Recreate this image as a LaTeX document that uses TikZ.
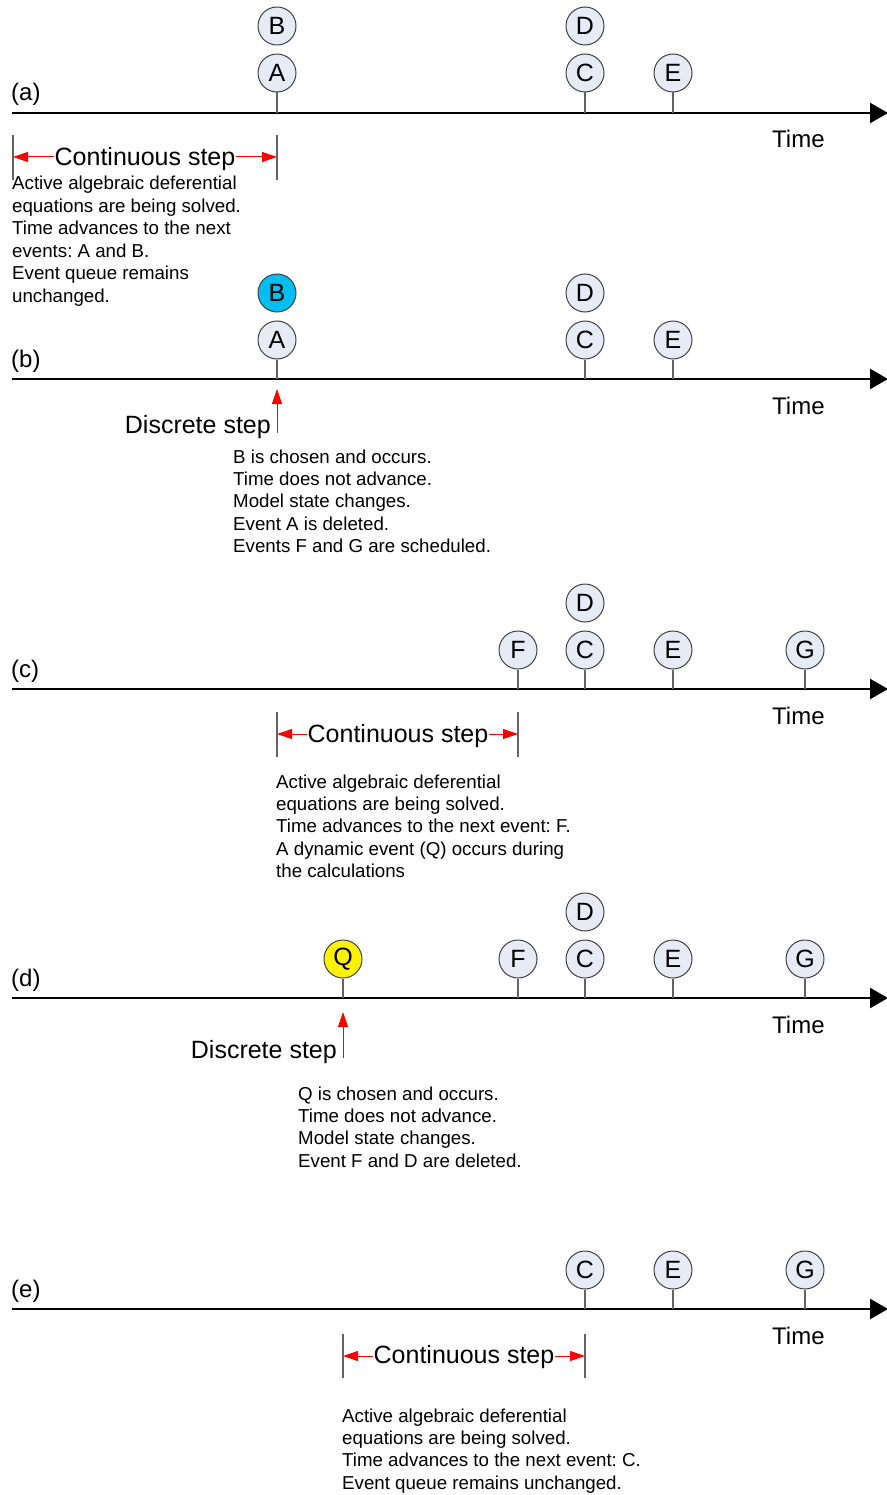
\documentclass[tikz,border=0pt]{standalone}
\usepackage{fontspec}
\setmainfont{Liberation Sans}
\frenchspacing
\usetikzlibrary{arrows.meta}
\definecolor{evfill}{RGB}{230,235,245}
\definecolor{evline}{RGB}{64,64,64}
\definecolor{stemgray}{RGB}{100,100,100}
\definecolor{firecyan}{RGB}{0,190,240}
\tikzset{
  event/.style={circle, draw=evline, line width=1pt, fill=evfill, minimum size=38pt,
    inner sep=0pt, font=\fontsize{25}{25}\selectfont},
  stem/.style={draw=stemgray, line width=1.5pt},
  timeaxis/.style={draw=black, line width=2.5pt, -{Triangle[length=18pt,width=20pt]}},
  bound/.style={draw=stemgray, line width=1.5pt},
  redarrow/.style={draw=red, line width=1pt, -{Triangle[length=15pt,width=10pt]}},
  steplabel/.style={font=\fontsize{25}{25}\selectfont, inner sep=0pt},
  % multi-line notes: the base anchor sits on the last line's baseline
  body/.style={font=\fontsize{18.7}{22.4}\selectfont, align=left, inner sep=0pt, anchor=base west},
  panel/.style={font=\fontsize{24}{24}\selectfont, inner sep=0pt, anchor=base west}
}
\begin{document}
\begin{tikzpicture}[x=1pt,y=-1pt]
\useasboundingbox (0,0) rectangle (886,1495);

% ---------------- (a) ----------------
\coordinate (axA0) at (12,113);
\coordinate (axA1) at (888,113);
\draw[timeaxis] (axA0) -- (axA1);
\node[panel] (labA) at (11,101) {(a)};
\node[panel] (timeA) at (772,148) {Time};
\node[event] (Aa) at (277,73) {A};
\node[event] (Ba) at (277,26) {B};
\node[event] (Ca) at (585,73) {C};
\node[event] (Da) at (585,26) {D};
\node[event] (Ea) at (673,73) {E};
\foreach \n in {Aa,Ca,Ea} \draw[stem] (\n.south) -- (\n.south |- axA0);
\coordinate (bA0t) at (13,135);  \coordinate (bA0b) at (13,180);
\coordinate (bA1t) at (277,135); \coordinate (bA1b) at (277,180);
\draw[bound] (bA0t) -- (bA0b);
\draw[bound] (bA1t) -- (bA1b);
\node[steplabel, anchor=base] (csA) at (145,166) {Continuous step};
\coordinate (csAy) at (0,157);
\draw[redarrow] (csA.west |- csAy) -- (bA0t |- csAy);
\draw[redarrow] (csA.east |- csAy) -- (bA1t |- csAy);
\node[body] (txtA) at (12,302) {Active algebraic deferential\\equations are being solved.\\Time advances to the next\\events: A and B.\\Event queue remains\\unchanged.};

% ---------------- (b) ----------------
\coordinate (axB0) at (12,379);
\coordinate (axB1) at (888,379);
\draw[timeaxis] (axB0) -- (axB1);
\node[panel] (labB) at (11,367) {(b)};
\node[panel] (timeB) at (772,414) {Time};
\node[event] (Ab) at (277,340) {A};
\node[event, fill=firecyan] (Bb) at (277,293) {B};
\node[event] (Cb) at (585,340) {C};
\node[event] (Db) at (585,293) {D};
\node[event] (Eb) at (673,340) {E};
\foreach \n in {Ab,Cb,Eb} \draw[stem] (\n.south) -- (\n.south |- axB0);
\coordinate (dsB0) at (277,433);
\coordinate (dsB1) at (277,389);
\draw[redarrow] (dsB0) -- (dsB1);
\node[steplabel, anchor=base east] (dsB) at (271,433) {Discrete step};
\node[body] (txtB) at (233,552.6) {B is chosen and occurs.\\Time does not advance.\\Model state changes.\\Event A is deleted.\\Events F and G are scheduled.};

% ---------------- (c) ----------------
\coordinate (axC0) at (12,689);
\coordinate (axC1) at (888,689);
\draw[timeaxis] (axC0) -- (axC1);
\node[panel] (labC) at (11,677) {(c)};
\node[panel] (timeC) at (772,724) {Time};
\node[event] (Fc) at (518,650) {F};
\node[event] (Cc) at (585,650) {C};
\node[event] (Dc) at (585,603) {D};
\node[event] (Ec) at (673,650) {E};
\node[event] (Gc) at (805,650) {G};
\foreach \n in {Fc,Cc,Ec,Gc} \draw[stem] (\n.south) -- (\n.south |- axC0);
\coordinate (bC0t) at (277,712); \coordinate (bC0b) at (277,757);
\coordinate (bC1t) at (518,712); \coordinate (bC1b) at (518,757);
\draw[bound] (bC0t) -- (bC0b);
\draw[bound] (bC1t) -- (bC1b);
\node[steplabel, anchor=base] (csC) at (398,742) {Continuous step};
\coordinate (csCy) at (0,734);
\draw[redarrow] (csC.west |- csCy) -- (bC0t |- csCy);
\draw[redarrow] (csC.east |- csCy) -- (bC1t |- csCy);
\node[body] (txtC) at (276,877.6) {Active algebraic deferential\\equations are being solved.\\Time advances to the next event: F.\\A dynamic event (Q) occurs during\\the calculations};

% ---------------- (d) ----------------
\coordinate (axD0) at (12,998);
\coordinate (axD1) at (888,998);
\draw[timeaxis] (axD0) -- (axD1);
\node[panel] (labD) at (11,986) {(d)};
\node[panel] (timeD) at (772,1033) {Time};
\node[event, fill=yellow] (Qd) at (343,959) {Q};
\node[event] (Fd) at (518,959) {F};
\node[event] (Cd) at (585,959) {C};
\node[event] (Dd) at (585,912) {D};
\node[event] (Ed) at (673,959) {E};
\node[event] (Gd) at (805,959) {G};
\foreach \n in {Qd,Fd,Cd,Ed,Gd} \draw[stem] (\n.south) -- (\n.south |- axD0);
\coordinate (dsD0) at (343,1058);
\coordinate (dsD1) at (343,1012);
\draw[redarrow] (dsD0) -- (dsD1);
\node[steplabel, anchor=base east] (dsD) at (337,1058) {Discrete step};
\node[body] (txtD) at (298,1167.2) {Q is chosen and occurs.\\Time does not advance.\\Model state changes.\\Event F and D are deleted.};

% ---------------- (e) ----------------
\coordinate (axE0) at (12,1309);
\coordinate (axE1) at (888,1309);
\draw[timeaxis] (axE0) -- (axE1);
\node[panel] (labE) at (11,1297) {(e)};
\node[panel] (timeE) at (772,1344) {Time};
\node[event] (Ce) at (585,1270) {C};
\node[event] (Ee) at (673,1270) {E};
\node[event] (Ge) at (805,1270) {G};
\foreach \n in {Ce,Ee,Ge} \draw[stem] (\n.south) -- (\n.south |- axE0);
\coordinate (bE0t) at (343,1334); \coordinate (bE0b) at (343,1378);
\coordinate (bE1t) at (585,1334); \coordinate (bE1b) at (585,1378);
\draw[bound] (bE0t) -- (bE0b);
\draw[bound] (bE1t) -- (bE1b);
\node[steplabel, anchor=base] (csE) at (464,1363) {Continuous step};
\coordinate (csEy) at (0,1356);
\draw[redarrow] (csE.west |- csEy) -- (bE0t |- csEy);
\draw[redarrow] (csE.east |- csEy) -- (bE1t |- csEy);
\node[body] (txtE) at (342,1489.2) {Active algebraic deferential\\equations are being solved.\\Time advances to the next event: C.\\Event queue remains unchanged.};
\end{tikzpicture}
\end{document}
